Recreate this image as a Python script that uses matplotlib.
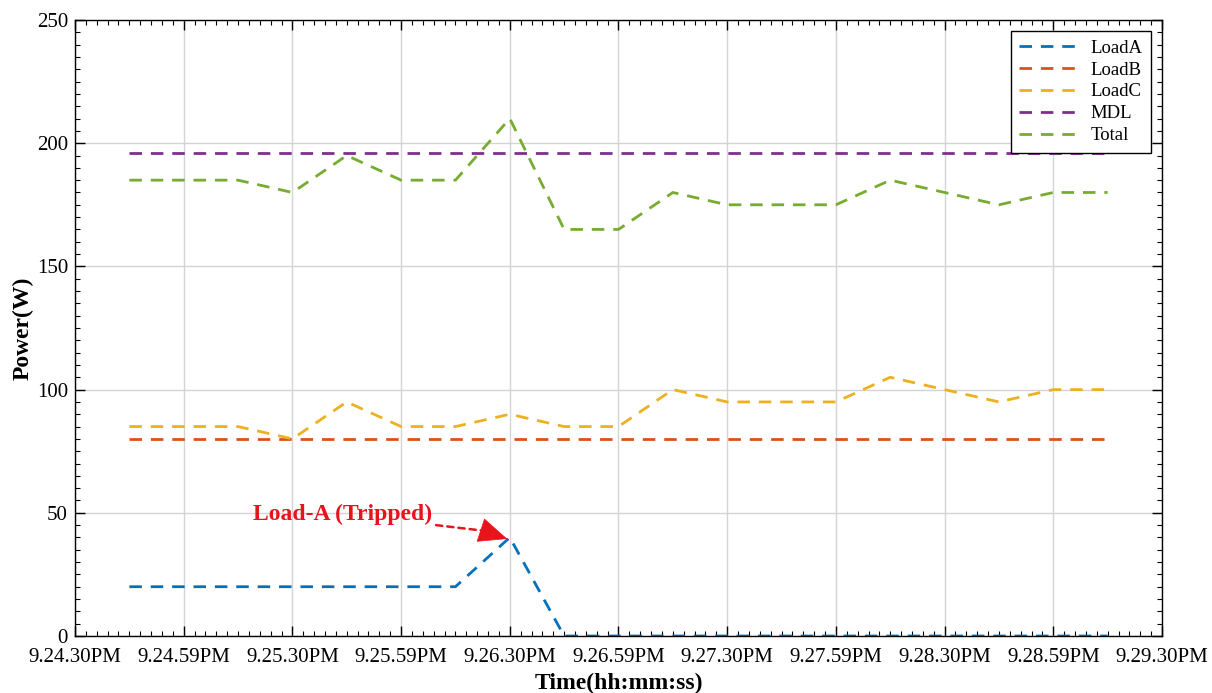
import matplotlib
matplotlib.use("Agg")
import matplotlib.pyplot as plt
from matplotlib.ticker import MultipleLocator

plt.rcParams['font.family'] = ['Liberation Serif', 'DejaVu Serif']

# time in seconds after 9.24.30PM, sampled every 15 s
time_s = [15, 30, 45, 60, 75, 90, 105, 120, 135, 150, 165, 180, 195, 210, 225, 240, 255, 270, 285]
load_a = [20, 20, 20, 20, 20, 20, 20, 40, 0, 0, 0, 0, 0, 0, 0, 0, 0, 0, 0]
load_b = [80] * 19
load_c = [85, 85, 85, 80, 95, 85, 85, 90, 85, 85, 100, 95, 95, 95, 105, 100, 95, 100, 100]
mdl = [196] * 19
total = [185, 185, 185, 180, 195, 185, 185, 210, 165, 165, 180, 175, 175, 175, 185, 180, 175, 180, 180]

tick_pos = [0, 30, 60, 90, 120, 150, 180, 210, 240, 270, 300]
tick_labels = ['9.24.30PM', '9.24.59PM', '9.25.30PM', '9.25.59PM', '9.26.30PM',
               '9.26.59PM', '9.27.30PM', '9.27.59PM', '9.28.30PM', '9.28.59PM', '9.29.30PM']

series = [('LoadA', load_a, '#0072BD'),
          ('LoadB', load_b, '#D95319'),
          ('LoadC', load_c, '#EDB120'),
          ('MDL', mdl, '#7E2F8E'),
          ('Total', total, '#77AC30')]

fig = plt.figure(figsize=(12.12, 6.93), dpi=100)
ax = fig.add_axes([75/1212, 57/693, (1162-75)/1212, (636-20)/693])

dash = (0, (4.5, 3.2))
for name, vals, col in series:
    ax.plot(time_s, vals, color=col, lw=2.0, linestyle=dash, label=name)

ax.set_xlim(0, 300)
ax.set_ylim(0, 250)
ax.set_xticks(tick_pos)
ax.set_xticklabels(tick_labels)
ax.set_yticks([0, 50, 100, 150, 200, 250])
ax.xaxis.set_minor_locator(MultipleLocator(3))
ax.yaxis.set_minor_locator(MultipleLocator(5))
ax.tick_params(which='both', direction='in', top=True, right=True, labelsize=15)
ax.tick_params(axis='x', which='major', pad=9)
ax.tick_params(axis='y', which='major', pad=5)
ax.tick_params(which='major', length=7, width=1)
ax.tick_params(which='minor', length=3.6, width=0.8)
ax.grid(True, which='major', color='#d4d4d4', lw=1)
ax.set_axisbelow(True)
for s in ax.spines.values():
    s.set_linewidth(1.0)
    s.set_color('black')

ax.set_xlabel('Time(hh:mm:ss)', fontsize=17, fontweight='bold', labelpad=4)
ax.set_ylabel('Power(W)', fontsize=17, fontweight='bold', labelpad=2)

red = '#e8141c'
head_base = (112.3, 42.8)
tip = (119.3, 39.4)
ax.annotate('Load-A (Tripped)', xy=head_base, xytext=(98.5, 49.5),
            ha='right', va='center', color=red, fontsize=17, fontweight='bold',
            arrowprops=dict(arrowstyle='-', color=red, lw=1.8,
                            linestyle=(0, (2.5, 2.0)), shrinkA=1, shrinkB=0))
ax.annotate('', xy=tip, xytext=head_base,
            arrowprops=dict(arrowstyle='-|>,head_length=0.97,head_width=0.42',
                            mutation_scale=20, color=red, lw=0.5,
                            shrinkA=0, shrinkB=0))

leg = ax.legend(loc='upper right', fontsize=13.5, handlelength=3.4, labelspacing=0.25,
                borderaxespad=0.6, fancybox=False, framealpha=1, edgecolor='black',
                handletextpad=0.4, borderpad=0.45)
leg.get_frame().set_linewidth(1.0)

fig.savefig('out.png', dpi=100)
